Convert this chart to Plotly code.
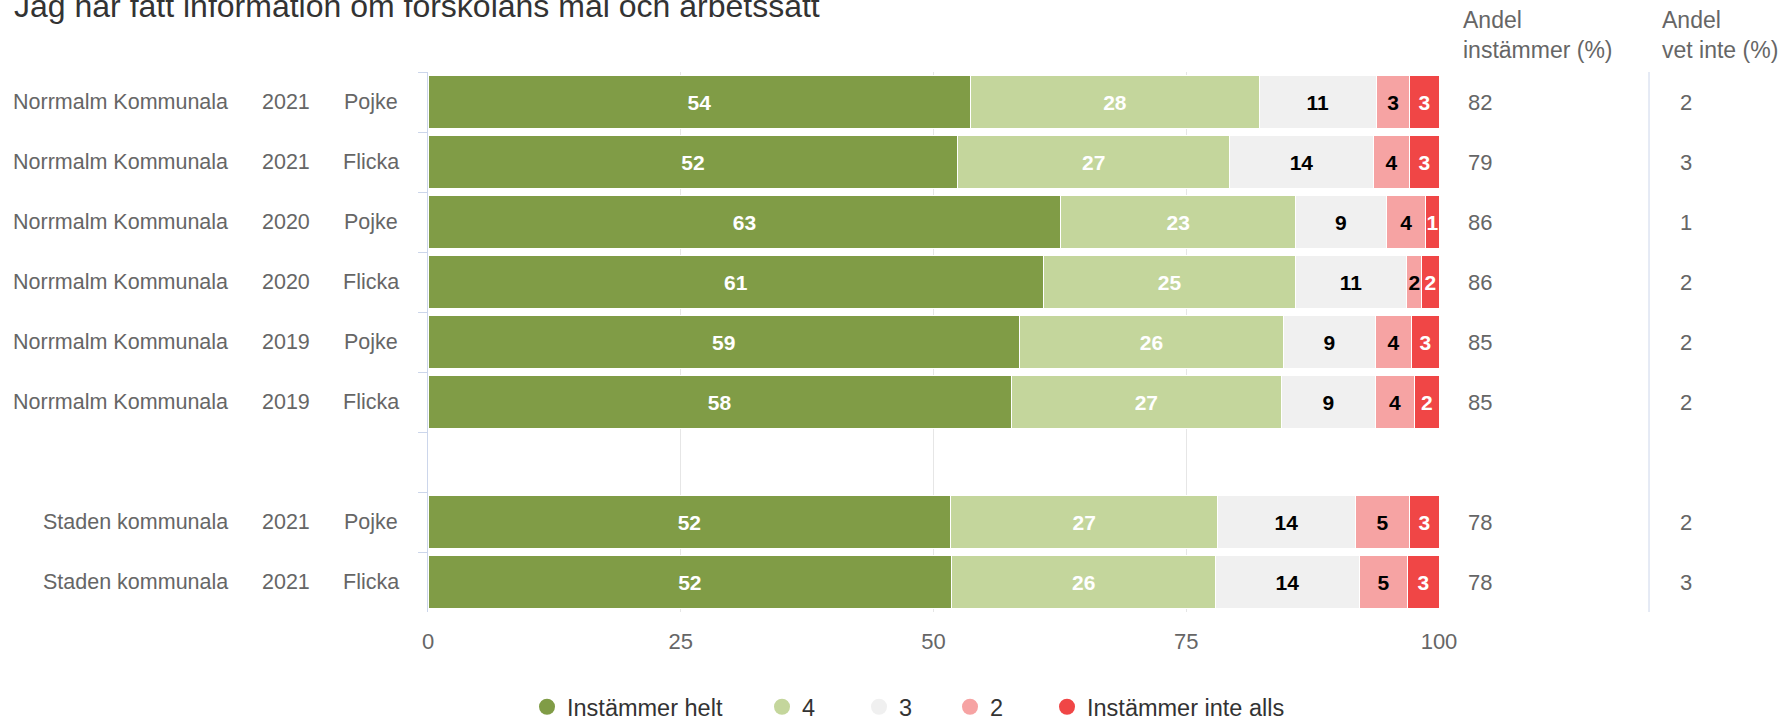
import plotly.graph_objects as go

# ---------------- data ----------------
regions = ["Norrmalm Kommunala"] * 6 + [""] + ["Staden kommunala"] * 2
years = ["2021", "2021", "2020", "2020", "2019", "2019", "", "2021", "2021"]
genders = ["Pojke", "Flicka", "Pojke", "Flicka", "Pojke", "Flicka", "", "Pojke", "Flicka"]

series_names = ["Instämmer helt", "4", "3", "2", "Instämmer inte alls"]

# bar segment shares (percent of the bar)
share_helt = [53.7, 52.4, 62.6, 60.9, 58.5, 57.7, None, 51.7, 51.8]
share_4 = [28.5, 26.9, 23.2, 24.9, 26.1, 26.7, None, 26.4, 26.1]
share_3 = [11.6, 14.2, 9.0, 11.0, 9.1, 9.3, None, 13.6, 14.2]
share_2 = [3.3, 3.6, 3.9, 1.5, 3.6, 3.9, None, 5.4, 4.8]
share_inte = [2.9, 2.9, 1.3, 1.7, 2.7, 2.4, None, 2.9, 3.1]

# printed labels on the segments
label_helt = [54, 52, 63, 61, 59, 58, None, 52, 52]
label_4 = [28, 27, 23, 25, 26, 27, None, 27, 26]
label_3 = [11, 14, 9, 11, 9, 9, None, 14, 14]
label_2 = [3, 4, 4, 2, 4, 4, None, 5, 5]
label_inte = [3, 3, 1, 2, 3, 2, None, 3, 3]

andel_instammer = [82, 79, 86, 86, 85, 85, None, 78, 78]
andel_vet_inte = [2, 3, 1, 2, 2, 2, None, 2, 3]

title_text = "Jag har fått information om förskolans mål och arbetssätt"
header_1 = "Andel<br>instämmer (%)"
header_2 = "Andel<br>vet inte (%)"
x_ticks = [0, 25, 50, 75, 100]

# ---------------- styles ----------------
colors = ["#809c46", "#c4d69c", "#f0f0f0", "#f6a3a3", "#f04646"]
label_colors = ["#ffffff", "#ffffff", "#000000", "#000000", "#ffffff"]
FONT = "Liberation Sans, Arial, Helvetica, sans-serif"
GRAY = "#666666"
W, H = 1785, 721
L, R, T, B = 428, 1439, 72, 612


def px(xpix):
    return (xpix - L) / (R - L)


def py(ypix):
    return (B - ypix) / (B - T)


keys = [f"{r}|{y}|{g}" for r, y, g in zip(regions, years, genders)]
shares = [share_helt, share_4, share_3, share_2, share_inte]
labels = [label_helt, label_4, label_3, label_2, label_inte]

fig = go.Figure()
for name, vals, labs, col, lcol in zip(series_names, shares, labels, colors, label_colors):
    fig.add_trace(go.Bar(
        y=keys, x=vals, orientation="h", name=name,
        marker=dict(color=col, line=dict(color="white", width=1)),
        text=["" if v is None else str(v) for v in labs],
        textposition="inside", insidetextanchor="middle", textangle=0,
        constraintext="none",
        textfont=dict(color=lcol, size=21, family=FONT, weight="bold"),
        showlegend=False, hoverinfo="skip",
    ))

# legend entries (circles), each in its own legend box to mimic spacing
legend_centers = [548, 783, 880, 971, 1068]
legend_layouts = {}
for i, (name, col) in enumerate(zip(series_names, colors)):
    lname = "legend" if i == 0 else f"legend{i + 1}"
    fig.add_trace(go.Scatter(
        x=[None], y=[None], mode="markers", name=name,
        marker=dict(color=col, size=16), legend=lname, showlegend=True,
        hoverinfo="skip",
    ))
    legend_layouts[lname] = dict(
        xref="container", yref="container",
        x=(legend_centers[i] - 21) / W, y=1 - 707 / H, xanchor="left", yanchor="middle",
        orientation="h", font=dict(size=23.5, color="#333333", family=FONT),
        bgcolor="rgba(0,0,0,0)", borderwidth=0, itemclick=False, itemdoubleclick=False,
    )

annotations = []
annotations.append(dict(text=title_text, xref="paper", yref="paper", x=px(12), y=py(6),
                        xanchor="left", yanchor="middle", showarrow=False,
                        font=dict(size=32, color="#333333", family=FONT)))
annotations.append(dict(text=header_1, xref="paper", yref="paper", x=px(1461), y=py(35),
                        xanchor="left", yanchor="middle", align="left", showarrow=False,
                        font=dict(size=23, color=GRAY, family=FONT)))
annotations.append(dict(text=header_2, xref="paper", yref="paper", x=px(1660), y=py(35),
                        xanchor="left", yanchor="middle", align="left", showarrow=False,
                        font=dict(size=23, color=GRAY, family=FONT)))

for k, r, yr, g, a1, a2 in zip(keys, regions, years, genders, andel_instammer, andel_vet_inte):
    if a1 is None:
        continue
    f = dict(size=21.5, color=GRAY, family=FONT)
    annotations.append(dict(text=r, xref="paper", yref="y", x=px(230), y=k,
                            xanchor="right", showarrow=False, font=f))
    annotations.append(dict(text=yr, xref="paper", yref="y", x=px(286), y=k,
                            xanchor="center", showarrow=False, font=f))
    annotations.append(dict(text=g, xref="paper", yref="y", x=px(370.5), y=k,
                            xanchor="center", showarrow=False, font=f))
    annotations.append(dict(text=str(a1), xref="paper", yref="y", x=px(1466), y=k,
                            xanchor="left", showarrow=False,
                            font=dict(size=22, color=GRAY, family=FONT)))
    annotations.append(dict(text=str(a2), xref="paper", yref="y", x=px(1678), y=k,
                            xanchor="left", showarrow=False,
                            font=dict(size=22, color=GRAY, family=FONT)))

fig.update_layout(
    width=W, height=H,
    margin=dict(l=L, r=W - R, t=T, b=H - B, pad=0, autoexpand=False),
    barmode="stack", bargap=0.133,
    plot_bgcolor="white", paper_bgcolor="white",
    font=dict(family=FONT, color=GRAY),
    annotations=annotations,
    shapes=[dict(type="line", xref="paper", yref="paper", x0=px(1649), x1=px(1649),
                 y0=0, y1=1, line=dict(color="#ccd6eb", width=1))],
    hovermode=False,
    **legend_layouts,
)
fig.update_xaxes(range=[0, 100], tickvals=x_ticks, showgrid=True, gridcolor="#e6e6e6",
                 gridwidth=1, zeroline=False, showline=False, ticks="",
                 tickfont=dict(size=22, color=GRAY, family=FONT), ticklabelstandoff=14,
                 fixedrange=True)
fig.update_yaxes(type="category", categoryorder="array", categoryarray=keys,
                 range=[len(keys) - 0.5, -0.5], showticklabels=False, ticks="outside",
                 tickson="boundaries", ticklen=9, tickcolor="#ccd6eb", tickwidth=1,
                 showline=True, linecolor="#ccd6eb", linewidth=1, showgrid=False,
                 zeroline=False, fixedrange=True)

fig.write_html("out.html", config={"displayModeBar": False},
               post_script="document.body.style.margin='0';document.body.style.overflow='hidden';")
